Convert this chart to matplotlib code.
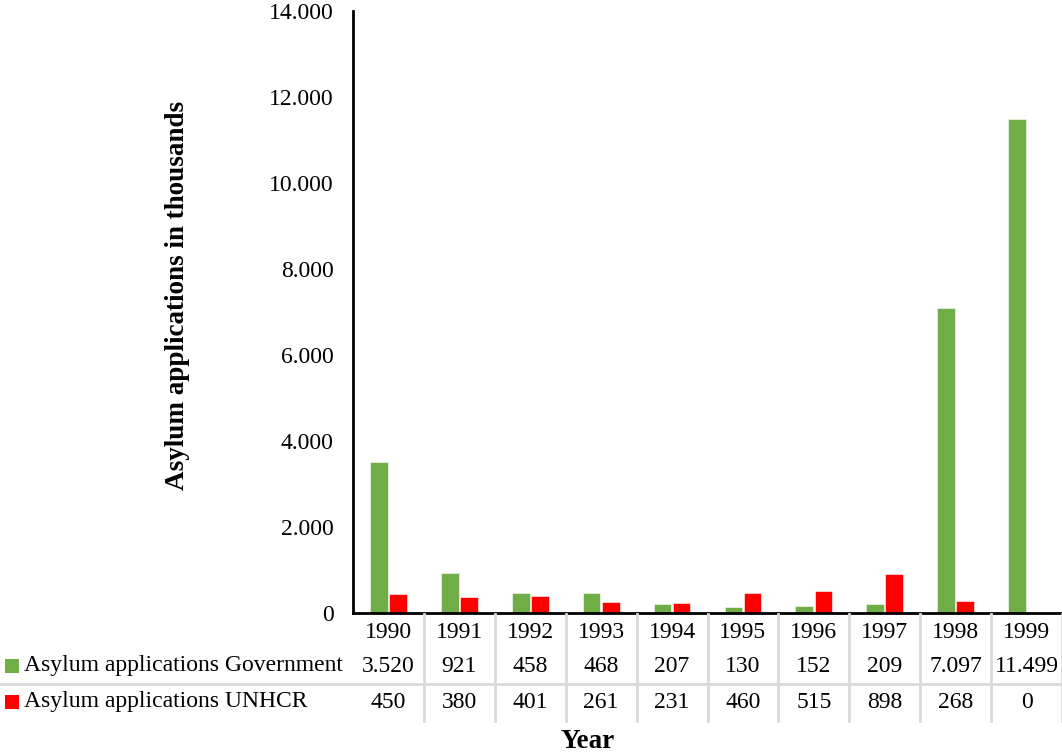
import matplotlib
matplotlib.use("Agg")
import matplotlib.pyplot as plt
from matplotlib.lines import Line2D
from matplotlib.patches import Rectangle
import matplotlib.transforms as mtransforms

years = ["1990", "1991", "1992", "1993", "1994", "1995", "1996", "1997", "1998", "1999"]
government = [3520, 921, 458, 468, 207, 130, 152, 209, 7097, 11499]
unhcr = [450, 380, 401, 261, 231, 460, 515, 898, 268, 0]
series_names = ["Asylum applications Government", "Asylum applications UNHCR"]
yticks = [0, 2000, 4000, 6000, 8000, 10000, 12000, 14000]

GREEN = "#70AD47"
RED = "#FF0000"
GRID = "#D9D9D9"
FS = 17

plt.rcParams["font.family"] = ["Liberation Serif", "DejaVu Serif"]

W, H = 1062, 753
fig = plt.figure(figsize=(W / 100, H / 100), dpi=100)


def fy(py):
    return 1 - py / H


def fx(px):
    return px / W


def fmt(v):
    return f"{v:,}".replace(",", ".")


ax_left, ax_right, ax_top, ax_bottom = 353, 1062, 11, 613
ax = fig.add_axes([fx(ax_left), fy(ax_bottom), fx(ax_right - ax_left), fy(ax_top) - fy(ax_bottom)])

n = len(years)
x = list(range(n))
bw = 0.25
off = 0.135
ax.bar([i - off for i in x], government, width=bw, color=GREEN, edgecolor="white", linewidth=0.4, zorder=3)
ax.bar([i + off for i in x], unhcr, width=bw, color=RED, edgecolor="white", linewidth=0.4, zorder=3)

ax.set_xlim(-0.5, n - 0.5)
ax.set_ylim(0, 14000)
ax.set_yticks(yticks)
ax.set_yticklabels([fmt(v) for v in yticks], fontsize=FS)
ax.tick_params(axis="y", length=0, pad=14)
ax.set_xticks([])
for s in ["top", "right"]:
    ax.spines[s].set_visible(False)
for s in ["left", "bottom"]:
    ax.spines[s].set_linewidth(2)
    ax.spines[s].set_zorder(4)

# data table below the axis
trans = mtransforms.blended_transform_factory(ax.transData, fig.transFigure)
for k in range(1, n + 1):
    fig.add_artist(Line2D([k - 0.5, k - 0.5], [fy(614), fy(721)], transform=trans,
                          color=GRID, lw=2, zorder=1))
fig.add_artist(Line2D([0, 1], [fy(684), fy(684)], transform=fig.transFigure,
                      color=GRID, lw=2, zorder=1))

row_y = [632, 666, 702]
for i in range(n):
    ax.text(i, fy(row_y[0]), years[i], transform=trans, ha="center", va="center",
            fontsize=FS, clip_on=False)
    ax.text(i, fy(row_y[1]), fmt(government[i]), transform=trans, ha="center", va="center",
            fontsize=FS, clip_on=False)
    ax.text(i, fy(row_y[2]), fmt(unhcr[i]), transform=trans, ha="center", va="center",
            fontsize=FS, clip_on=False)

for name, color, py in [(series_names[0], GREEN, row_y[1]), (series_names[1], RED, row_y[2])]:
    fig.add_artist(Rectangle((fx(5), fy(py + 7)), fx(14), 14 / H, transform=fig.transFigure,
                             color=color, lw=0))
    fig.text(fx(24), fy(py), name, ha="left", va="center", fontsize=FS)

fig.text(fx(588), fy(741), "Year", ha="center", va="center", fontsize=19.5, fontweight="bold")
fig.text(fx(178), fy(295), "Asylum applications in thousands", ha="center", va="center",
         rotation=90, fontsize=19.5, fontweight="bold")

fig.savefig("out.png", dpi=100)
